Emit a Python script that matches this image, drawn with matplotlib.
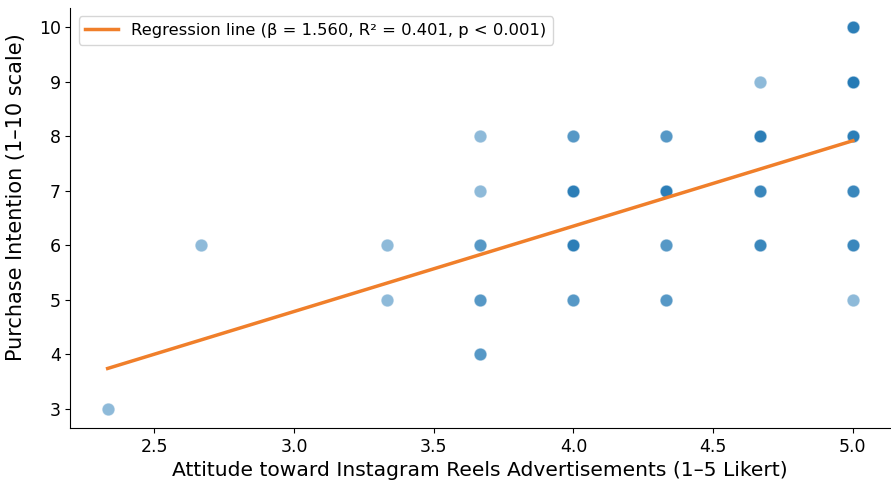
import numpy as np
import matplotlib
matplotlib.use("Agg")
import matplotlib.pyplot as plt

# Attitude score (x), purchase intention (y), number of respondents at that point
attitude = [2.333, 2.667, 3.333, 3.333,
            3.667, 3.667, 3.667, 3.667, 3.667,
            4.0, 4.0, 4.0, 4.0,
            4.333, 4.333, 4.333, 4.333,
            4.667, 4.667, 4.667, 4.667,
            5.0, 5.0, 5.0, 5.0, 5.0, 5.0]
intention = [3, 6, 6, 5,
             8, 7, 6, 5, 4,
             8, 7, 6, 5,
             8, 7, 6, 5,
             9, 8, 7, 6,
             10, 9, 8, 7, 6, 5]
counts = [1, 1, 1, 1,
          1, 1, 2, 2, 2,
          2, 4, 4, 2,
          2, 4, 2, 2,
          1, 4, 3, 3,
          4, 5, 4, 3, 3, 1]

x = np.repeat(attitude, counts)
y = np.repeat(intention, counts)

slope, intercept = np.polyfit(x, y, 1)
xs = np.array([x.min(), x.max()])

fig = plt.figure(figsize=(8.91, 4.83), dpi=100)
ax = fig.add_axes([0.079, 0.114, 0.92, 0.869])

ax.scatter(x, y, s=85, color='#1f77b4', alpha=0.5, edgecolors='white', linewidths=0.7)
ax.plot(xs, intercept + slope * xs, color='#f07f2a', lw=2.5,
        label='Regression line (β = 1.560, R² = 0.401, p < 0.001)')

ax.set_xlabel('Attitude toward Instagram Reels Advertisements (1–5 Likert)', fontsize=14.6)
ax.set_ylabel('Purchase Intention (1–10 scale)', fontsize=15)
ax.yaxis.set_label_coords(-0.054, 0.55)
ax.tick_params(labelsize=12.5)
ax.spines['top'].set_visible(False)
ax.spines['right'].set_visible(False)
ax.legend(loc='upper left', fontsize=11.8)

fig.savefig('out.png', dpi=100)
